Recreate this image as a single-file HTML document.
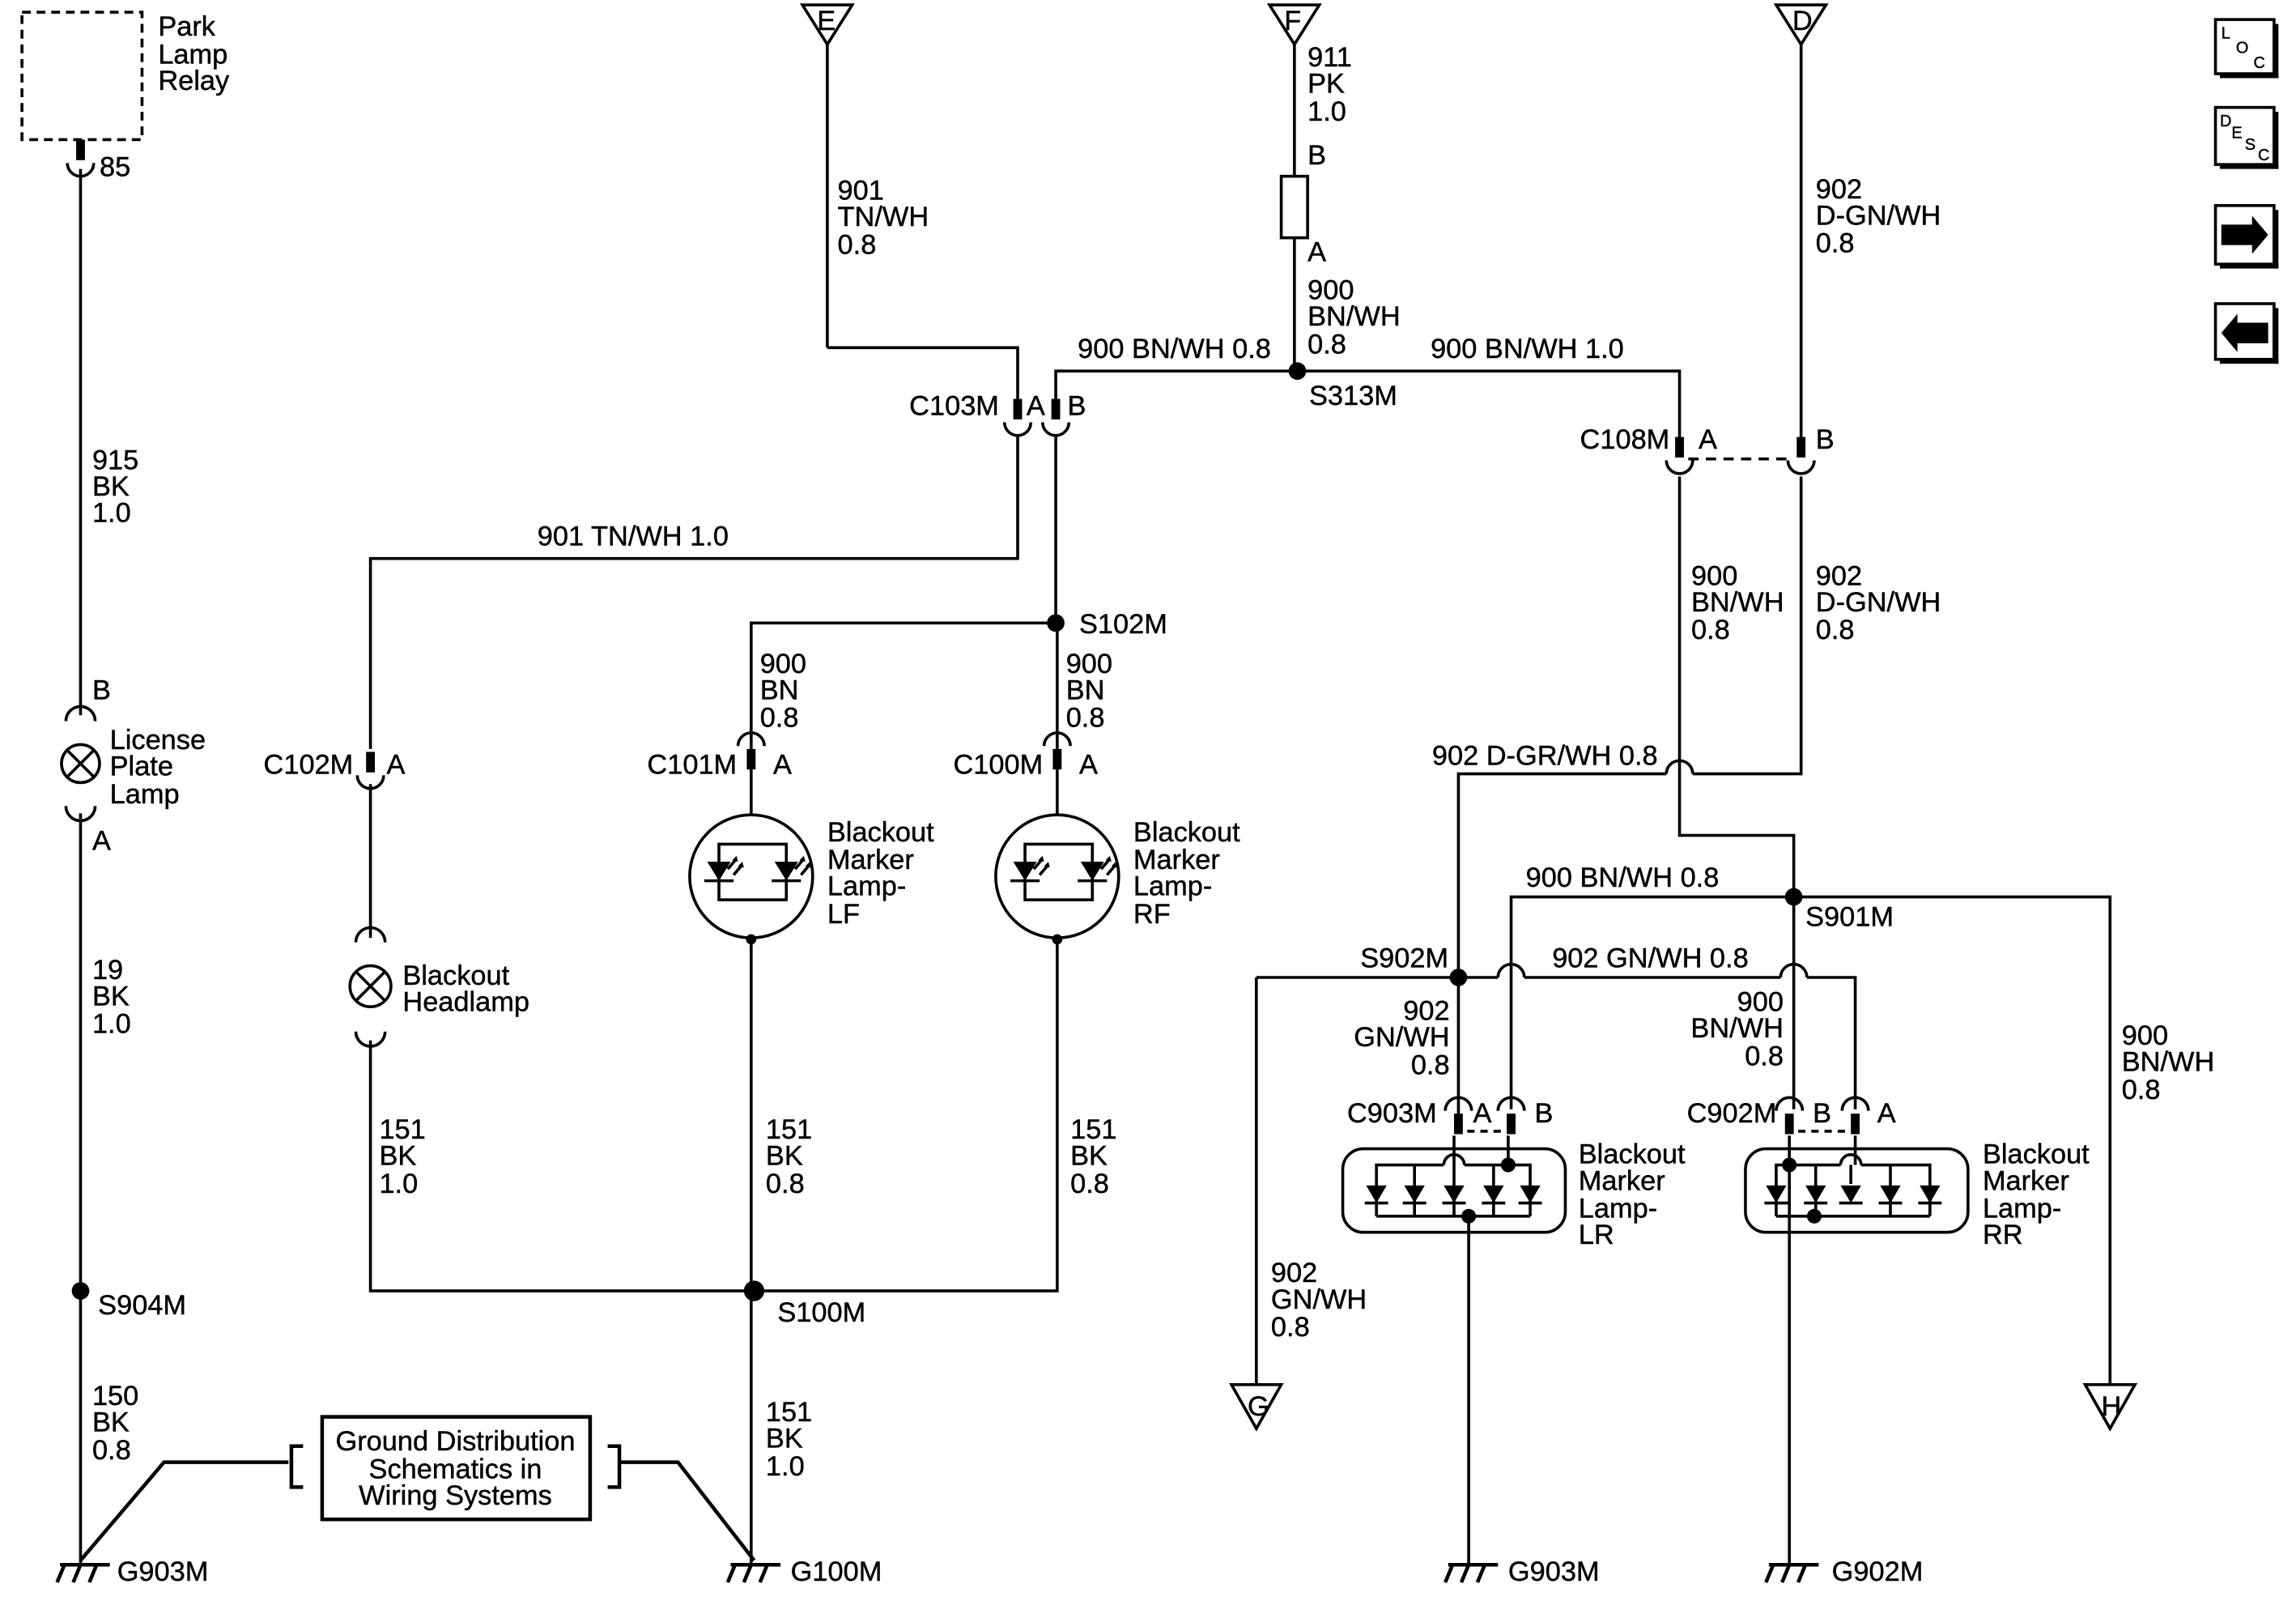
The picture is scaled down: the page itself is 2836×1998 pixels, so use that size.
<!DOCTYPE html>
<html><head><meta charset="utf-8"><style>
html,body{margin:0;padding:0;background:#fff}
svg{display:block}
text{font-family:"Liberation Sans",Arial,sans-serif;font-size:19px;fill:#000;stroke:#000;stroke-width:0.25}
</style></head><body>
<svg width="2836" height="1998" viewBox="0 0 1568 1104" xmlns="http://www.w3.org/2000/svg">
<defs>
<g id="gnd" stroke="#000" stroke-width="2.5" fill="none">
<line x1="-14" y1="0" x2="20" y2="0"/><line x1="-11" y1="0" x2="-16" y2="12"/><line x1="0" y1="0" x2="-5" y2="12"/><line x1="11" y1="0" x2="6" y2="12"/>
</g>
<g id="pinD"><rect x="-3" y="-14" width="6" height="14" fill="#000"/><path d="M-9,2 A9,9 0 0 0 9,2" stroke="#000" stroke-width="2" fill="none"/></g>
<g id="pinU"><rect x="-3" y="0" width="6" height="14" fill="#000"/><path d="M-9,-2 A9,9 0 0 1 9,-2" stroke="#000" stroke-width="2" fill="none"/></g>
<g id="diode"><path d="M-7,-6 L7,-6 L0,6 Z" fill="#000"/><line x1="-8" y1="6" x2="8" y2="6" stroke="#000" stroke-width="2"/></g>
<g id="led"><path d="M-8,-7 L8,-7 L0,6 Z" fill="#000"/><line x1="-10" y1="6" x2="10" y2="6" stroke="#000" stroke-width="2"/>
<path d="M6,-2 L12,-9 M10,2 L16,-5" stroke="#000" stroke-width="2" fill="none"/><path d="M12,-11 l1,4 l-4,-1 Z M16,-7 l1,4 l-4,-1 Z" fill="#000"/></g>
</defs>
<g stroke="#000" stroke-width="2" fill="none">
<rect x="15" y="8" width="82" height="87" stroke-dasharray="6,4"/>
<line x1="55" y1="115" x2="55" y2="488"/>
<path d="M45,492 A10,10 0 0 1 65,492"/>
<circle cx="55" cy="521" r="13"/><line x1="46" y1="512" x2="64" y2="530"/><line x1="64" y1="512" x2="46" y2="530"/>
<path d="M45,550 A10,10 0 0 0 65,550"/>
<line x1="55" y1="555" x2="55" y2="1068"/>
<polyline points="55,1065 112,998 197,998" stroke-width="2.5"/>
<rect x="220" y="967" width="183" height="70" stroke-width="2.5"/>
<polyline points="207,987 199,987 199,1015 207,1015" stroke-width="2.5"/>
<polyline points="415,987 423,987 423,1015 415,1015" stroke-width="2.5"/>
<polyline points="423,998 463,998 515,1065" stroke-width="2.5"/>
<path d="M548,3 L582,3 L565,30 Z"/><line x1="565" y1="30" x2="565" y2="237"/>
<polyline points="565,237 695,237 695,272"/>
<path d="M867,3 L901,3 L884,30 Z"/><line x1="884" y1="30" x2="884" y2="120"/>
<rect x="875" y="120" width="18" height="42"/><line x1="884" y1="162" x2="884" y2="253"/>
<polyline points="721,272 721,253 1147,253 1147,298"/>
<path d="M1213,3 L1247,3 L1230,30 Z"/><line x1="1230" y1="30" x2="1230" y2="298"/>
<line x1="1153" y1="313" x2="1224" y2="313" stroke-dasharray="7,5"/>
<polyline points="1230,325 1230,528 1156,528"/>
<path d="M1156,528 A9,9 0 0 0 1138,528"/>
<polyline points="1138,528 996,528 996,760"/>
<polyline points="1147,325 1147,570 1225,570 1225,757"/>
<polyline points="1032,757 1032,612 1441,612 1441,945"/>
<line x1="858" y1="667" x2="1023" y2="667"/><path d="M1023,667 A9,9 0 0 1 1041,667"/>
<line x1="1041" y1="667" x2="1216" y2="667"/><path d="M1216,667 A9,9 0 0 1 1234,667"/>
<polyline points="1234,667 1267,667 1267,757"/>
<line x1="858" y1="667" x2="858" y2="945"/>
<path d="M841,945 L875,945 L858,975 Z"/>
<path d="M1424,945 L1458,945 L1441,975 Z"/>
<line x1="1002" y1="772" x2="1026" y2="772" stroke-dasharray="5,4"/>
<line x1="1228" y1="772" x2="1261" y2="772" stroke-dasharray="5,4"/>
<rect x="917" y="784" width="152" height="57" rx="14"/>
<rect x="1192" y="784" width="152" height="57" rx="14"/>
<polyline points="940,821 940,795 986,795"/><path d="M986,795 A7,7 0 0 1 1000,795"/>
<polyline points="1000,795 1045,795 1045,821"/>
<line x1="966" y1="795" x2="966" y2="830"/><line x1="1020" y1="795" x2="1020" y2="830"/>
<line x1="940" y1="821" x2="940" y2="830"/><line x1="1045" y1="821" x2="1045" y2="830"/>
<line x1="940" y1="830" x2="1045" y2="830"/>
<line x1="993" y1="775" x2="993" y2="830"/>
<line x1="1030" y1="775" x2="1030" y2="795"/>
<line x1="1003" y1="830" x2="1003" y2="1068"/>
<polyline points="1213,830 1213,795 1257,795"/><path d="M1257,795 A7,7 0 0 1 1271,795"/>
<polyline points="1271,795 1318,795 1318,830"/>
<line x1="1240" y1="795" x2="1240" y2="830"/><line x1="1291" y1="795" x2="1291" y2="830"/>
<line x1="1213" y1="830" x2="1318" y2="830"/>
<line x1="1264" y1="795" x2="1264" y2="808"/>
<line x1="1222" y1="775" x2="1222" y2="1068"/>
<line x1="1267" y1="775" x2="1267" y2="795"/>
<polyline points="695,298 695,381 253,381 253,511"/>
<line x1="253" y1="535" x2="253" y2="640"/>
<path d="M243,643 A10,10 0 0 1 263,643"/>
<circle cx="253" cy="673" r="14"/><line x1="243" y1="663" x2="263" y2="683"/><line x1="263" y1="663" x2="243" y2="683"/>
<path d="M243,704 A10,10 0 0 0 263,704"/>
<polyline points="253,710 253,881 722,881 722,642"/>
<polyline points="721,298 721,425 513,425 513,511"/>
<line x1="722" y1="425" x2="722" y2="511"/>
<line x1="513" y1="525" x2="513" y2="556"/><line x1="722" y1="525" x2="722" y2="556"/>
<circle cx="513" cy="598" r="42"/><circle cx="722" cy="598" r="42"/>
<rect x="491" y="576" width="46" height="38"/><rect x="700" y="576" width="46" height="38"/>
<line x1="513" y1="640" x2="513" y2="1068"/>
<rect x="1513" y="13" width="40" height="37"/><rect x="1513" y="73" width="40" height="39"/>
<rect x="1513" y="140" width="40" height="40"/><rect x="1513" y="207" width="40" height="38"/>
</g>
<g fill="#000">
<path d="M1517,153 L1538,153 L1538,147 L1549,160 L1538,173 L1538,167 L1517,167 Z"/>
<path d="M1549,220 L1528,220 L1528,214 L1517,227 L1528,240 L1528,234 L1549,234 Z"/>
<rect x="1553" y="16" width="3" height="37"/><rect x="1516" y="50" width="40" height="3"/>
<rect x="1553" y="76" width="3" height="39"/><rect x="1516" y="112" width="40" height="3"/>
<rect x="1553" y="143" width="3" height="40"/><rect x="1516" y="180" width="40" height="3"/>
<rect x="1553" y="210" width="3" height="38"/><rect x="1516" y="245" width="40" height="3"/>
<circle cx="55" cy="881" r="6"/><circle cx="886" cy="253" r="6"/><circle cx="721" cy="425" r="6"/>
<circle cx="515" cy="881" r="7"/><circle cx="996" cy="667" r="6"/><circle cx="1225" cy="612" r="6"/>
<circle cx="513" cy="641" r="3.5"/><circle cx="722" cy="641" r="3.5"/>
<circle cx="1030" cy="795" r="5"/><circle cx="1003" cy="830" r="5"/><circle cx="1222" cy="795" r="5"/><circle cx="1239" cy="830" r="5"/>
</g>
<use href="#pinD" x="55" y="109"/>
<use href="#pinD" x="695" y="286"/><use href="#pinD" x="721" y="286"/>
<use href="#pinD" x="1147" y="312"/><use href="#pinD" x="1230" y="312"/>
<use href="#pinD" x="253" y="527"/><use href="#pinU" x="513" y="511"/><use href="#pinU" x="722" y="511"/>
<use href="#pinU" x="996" y="760"/><use href="#pinU" x="1032" y="760"/>
<use href="#pinU" x="1222" y="760"/><use href="#pinU" x="1267" y="760"/>
<use href="#diode" x="940" y="815"/><use href="#diode" x="966" y="815"/><use href="#diode" x="993" y="815"/><use href="#diode" x="1020" y="815"/><use href="#diode" x="1045" y="815"/>
<use href="#diode" x="1213" y="815"/><use href="#diode" x="1240" y="815"/><use href="#diode" x="1264" y="815"/><use href="#diode" x="1291" y="815"/><use href="#diode" x="1318" y="815"/>
<use href="#led" x="491" y="595"/><use href="#led" x="537" y="595"/><use href="#led" x="700" y="595"/><use href="#led" x="746" y="595"/>
<use href="#gnd" x="55" y="1068"/><use href="#gnd" x="513" y="1068"/><use href="#gnd" x="1003" y="1068"/><use href="#gnd" x="1222" y="1068"/>
<text x="108" y="24">Park</text><text x="108" y="43">Lamp</text><text x="108" y="61">Relay</text>
<text x="68" y="120">85</text>
<text x="63" y="320">915</text><text x="63" y="338">BK</text><text x="63" y="356">1.0</text>
<text x="63" y="477">B</text>
<text x="75" y="511">License</text><text x="75" y="529">Plate</text><text x="75" y="548">Lamp</text>
<text x="63" y="580">A</text>
<text x="63" y="668">19</text><text x="63" y="686">BK</text><text x="63" y="705">1.0</text>
<text x="67" y="897">S904M</text>
<text x="63" y="959">150</text><text x="63" y="977">BK</text><text x="63" y="996">0.8</text>
<text x="80" y="1079">G903M</text>
<text x="311" y="990" text-anchor="middle">Ground Distribution</text>
<text x="311" y="1009" text-anchor="middle">Schematics in</text>
<text x="311" y="1027" text-anchor="middle">Wiring Systems</text>
<text x="558" y="20">E</text><text x="877" y="20">F</text><text x="1224" y="20">D</text>
<text x="852" y="966">G</text><text x="1435" y="966">H</text>
<text x="572" y="136">901</text><text x="572" y="154">TN/WH</text><text x="572" y="173">0.8</text>
<text x="893" y="45">911</text><text x="893" y="63">PK</text><text x="893" y="82">1.0</text>
<text x="893" y="112">B</text><text x="893" y="178">A</text>
<text x="893" y="204">900</text><text x="893" y="222">BN/WH</text><text x="893" y="241">0.8</text>
<text x="1240" y="135">902</text><text x="1240" y="153">D-GN/WH</text><text x="1240" y="172">0.8</text>
<text x="736" y="244">900 BN/WH 0.8</text><text x="977" y="244">900 BN/WH 1.0</text>
<text x="894" y="276">S313M</text>
<text x="621" y="283">C103M</text><text x="701" y="283">A</text><text x="729" y="283">B</text>
<text x="1079" y="306">C108M</text><text x="1160" y="306">A</text><text x="1240" y="306">B</text>
<text x="367" y="372">901 TN/WH 1.0</text>
<text x="737" y="432">S102M</text>
<text x="519" y="459">900</text><text x="519" y="477">BN</text><text x="519" y="496">0.8</text>
<text x="728" y="459">900</text><text x="728" y="477">BN</text><text x="728" y="496">0.8</text>
<text x="180" y="528">C102M</text><text x="264" y="528">A</text>
<text x="442" y="528">C101M</text><text x="528" y="528">A</text>
<text x="651" y="528">C100M</text><text x="737" y="528">A</text>
<text x="565" y="574">Blackout</text><text x="565" y="593">Marker</text><text x="565" y="611">Lamp-</text><text x="565" y="630">LF</text>
<text x="774" y="574">Blackout</text><text x="774" y="593">Marker</text><text x="774" y="611">Lamp-</text><text x="774" y="630">RF</text>
<text x="275" y="672">Blackout</text><text x="275" y="690">Headlamp</text>
<text x="259" y="777">151</text><text x="259" y="795">BK</text><text x="259" y="814">1.0</text>
<text x="523" y="777">151</text><text x="523" y="795">BK</text><text x="523" y="814">0.8</text>
<text x="731" y="777">151</text><text x="731" y="795">BK</text><text x="731" y="814">0.8</text>
<text x="531" y="902">S100M</text>
<text x="523" y="970">151</text><text x="523" y="988">BK</text><text x="523" y="1007">1.0</text>
<text x="540" y="1079">G100M</text>
<text x="1155" y="399">900</text><text x="1155" y="417">BN/WH</text><text x="1155" y="436">0.8</text>
<text x="1240" y="399">902</text><text x="1240" y="417">D-GN/WH</text><text x="1240" y="436">0.8</text>
<text x="978" y="522">902 D-GR/WH 0.8</text>
<text x="1042" y="605">900 BN/WH 0.8</text><text x="1233" y="632">S901M</text>
<text x="929" y="660">S902M</text><text x="1060" y="660">902 GN/WH 0.8</text>
<text x="990" y="696" text-anchor="end">902</text><text x="990" y="714" text-anchor="end">GN/WH</text><text x="990" y="733" text-anchor="end">0.8</text>
<text x="1218" y="690" text-anchor="end">900</text><text x="1218" y="708" text-anchor="end">BN/WH</text><text x="1218" y="727" text-anchor="end">0.8</text>
<text x="1449" y="713">900</text><text x="1449" y="731">BN/WH</text><text x="1449" y="750">0.8</text>
<text x="920" y="766">C903M</text><text x="1006" y="766">A</text><text x="1048" y="766">B</text>
<text x="1152" y="766">C902M</text><text x="1238" y="766">B</text><text x="1282" y="766">A</text>
<text x="1078" y="794">Blackout</text><text x="1078" y="812">Marker</text><text x="1078" y="831">Lamp-</text><text x="1078" y="849">LR</text>
<text x="1354" y="794">Blackout</text><text x="1354" y="812">Marker</text><text x="1354" y="831">Lamp-</text><text x="1354" y="849">RR</text>
<text x="868" y="875">902</text><text x="868" y="893">GN/WH</text><text x="868" y="912">0.8</text>
<text x="1030" y="1079">G903M</text><text x="1251" y="1079">G902M</text>
<text x="1517" y="26" style="font-size:11px">L</text><text x="1527" y="36" style="font-size:11px">O</text><text x="1539" y="46" style="font-size:11px">C</text>
<text x="1516" y="86" style="font-size:11px">D</text><text x="1524" y="94" style="font-size:11px">E</text><text x="1533" y="102" style="font-size:11px">S</text><text x="1542" y="109" style="font-size:11px">C</text>
</svg>
</body></html>
